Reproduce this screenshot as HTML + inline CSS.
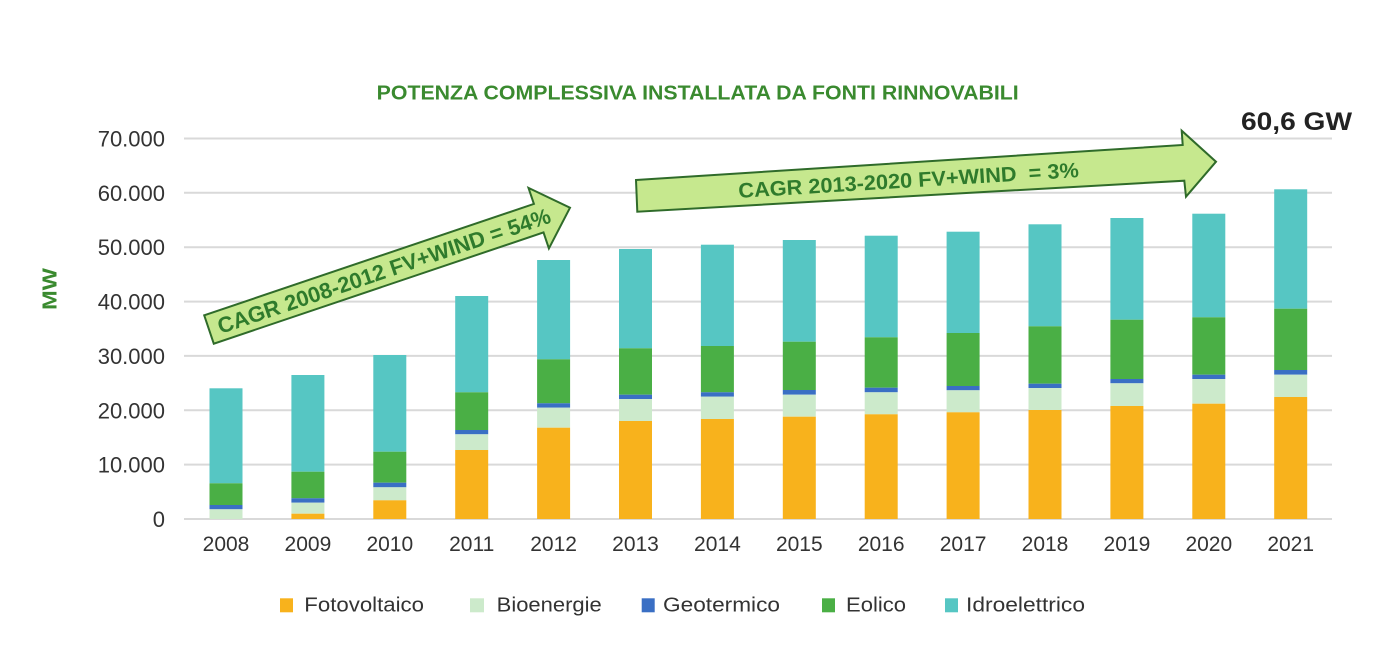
<!DOCTYPE html>
<html>
<head>
<meta charset="utf-8">
<style>
  html, body { margin:0; padding:0; background:#ffffff; }
  body { width:1400px; height:666px; overflow:hidden; }
  svg { display:block; }
  text { font-family: "Liberation Sans", "DejaVu Sans", sans-serif; }
</style>
</head>
<body>
<svg width="1400" height="666" viewBox="0 0 1400 666" xmlns="http://www.w3.org/2000/svg">
  <rect x="0" y="0" width="1400" height="666" fill="#ffffff"/>

  <!-- Title -->
  <text x="376.7" y="99.3" font-size="20" font-weight="bold" fill="#3A8A2F" textLength="642" lengthAdjust="spacingAndGlyphs">POTENZA COMPLESSIVA INSTALLATA DA FONTI RINNOVABILI</text>

  <!-- 60,6 GW -->
  <text x="1241" y="130" font-size="25" font-weight="bold" fill="#222222" textLength="111" lengthAdjust="spacingAndGlyphs">60,6 GW</text>

  <!-- Gridlines -->
  <g stroke="#D9D9D9" stroke-width="2">
    <line x1="184" y1="138.5" x2="1332" y2="138.5"/>
    <line x1="184" y1="192.8" x2="1332" y2="192.8"/>
    <line x1="184" y1="247.2" x2="1332" y2="247.2"/>
    <line x1="184" y1="301.6" x2="1332" y2="301.6"/>
    <line x1="184" y1="355.9" x2="1332" y2="355.9"/>
    <line x1="184" y1="410.3" x2="1332" y2="410.3"/>
    <line x1="184" y1="464.6" x2="1332" y2="464.6"/>
    <line x1="184" y1="519" x2="1332" y2="519"/>
  </g>

  <!-- Y labels -->
  <g font-size="22" fill="#333333" text-anchor="end">
    <text x="165" y="146.5">70.000</text>
    <text x="165" y="200.8">60.000</text>
    <text x="165" y="255.2">50.000</text>
    <text x="165" y="309.6">40.000</text>
    <text x="165" y="363.9">30.000</text>
    <text x="165" y="418.3">20.000</text>
    <text x="165" y="472.6">10.000</text>
    <text x="165" y="527">0</text>
  </g>

  <!-- MW -->
  <text transform="translate(56.5,289) rotate(-90)" x="0" y="0" font-size="20" font-weight="bold" fill="#3A8A2F" text-anchor="middle" textLength="42" lengthAdjust="spacingAndGlyphs">MW</text>

  <!-- Bars -->
  <g>
    <!-- 2008 -->
    <rect x="209.5" y="388.3" width="33" height="95" fill="#56C6C3"/>
    <rect x="209.5" y="483.3" width="33" height="21.7" fill="#4AAF45"/>
    <rect x="209.5" y="505" width="33" height="4.3" fill="#3A6FC4"/>
    <rect x="209.5" y="509.3" width="33" height="9.7" fill="#CCEACB"/>
    <!-- 2009 -->
    <rect x="291.4" y="375" width="33" height="96.7" fill="#56C6C3"/>
    <rect x="291.4" y="471.7" width="33" height="26.6" fill="#4AAF45"/>
    <rect x="291.4" y="498.3" width="33" height="4.4" fill="#3A6FC4"/>
    <rect x="291.4" y="502.7" width="33" height="11" fill="#CCEACB"/>
    <rect x="291.4" y="513.7" width="33" height="5.3" fill="#F8B21C"/>
    <!-- 2010 -->
    <rect x="373.3" y="355" width="33" height="96.7" fill="#56C6C3"/>
    <rect x="373.3" y="451.7" width="33" height="31" fill="#4AAF45"/>
    <rect x="373.3" y="482.7" width="33" height="4.6" fill="#3A6FC4"/>
    <rect x="373.3" y="487.3" width="33" height="13" fill="#CCEACB"/>
    <rect x="373.3" y="500.3" width="33" height="18.7" fill="#F8B21C"/>
    <!-- 2011 -->
    <rect x="455.2" y="296" width="33" height="96.3" fill="#56C6C3"/>
    <rect x="455.2" y="392.3" width="33" height="37.7" fill="#4AAF45"/>
    <rect x="455.2" y="430" width="33" height="4.3" fill="#3A6FC4"/>
    <rect x="455.2" y="434.3" width="33" height="15.7" fill="#CCEACB"/>
    <rect x="455.2" y="450" width="33" height="69" fill="#F8B21C"/>
    <!-- 2012 -->
    <rect x="537.1" y="260" width="33" height="99.3" fill="#56C6C3"/>
    <rect x="537.1" y="359.3" width="33" height="44" fill="#4AAF45"/>
    <rect x="537.1" y="403.3" width="33" height="4.4" fill="#3A6FC4"/>
    <rect x="537.1" y="407.7" width="33" height="20" fill="#CCEACB"/>
    <rect x="537.1" y="427.7" width="33" height="91.3" fill="#F8B21C"/>
    <!-- 2013 -->
    <rect x="619" y="249" width="33" height="99.3" fill="#56C6C3"/>
    <rect x="619" y="348.3" width="33" height="46.4" fill="#4AAF45"/>
    <rect x="619" y="394.7" width="33" height="4.3" fill="#3A6FC4"/>
    <rect x="619" y="399" width="33" height="22" fill="#CCEACB"/>
    <rect x="619" y="421" width="33" height="98" fill="#F8B21C"/>
    <!-- 2014 -->
    <rect x="700.9" y="244.7" width="33" height="101.3" fill="#56C6C3"/>
    <rect x="700.9" y="346" width="33" height="46.3" fill="#4AAF45"/>
    <rect x="700.9" y="392.3" width="33" height="4.4" fill="#3A6FC4"/>
    <rect x="700.9" y="396.7" width="33" height="22.3" fill="#CCEACB"/>
    <rect x="700.9" y="419" width="33" height="100" fill="#F8B21C"/>
    <!-- 2015 -->
    <rect x="782.8" y="240" width="33" height="101.7" fill="#56C6C3"/>
    <rect x="782.8" y="341.7" width="33" height="48.3" fill="#4AAF45"/>
    <rect x="782.8" y="390" width="33" height="4.7" fill="#3A6FC4"/>
    <rect x="782.8" y="394.7" width="33" height="22" fill="#CCEACB"/>
    <rect x="782.8" y="416.7" width="33" height="102.3" fill="#F8B21C"/>
    <!-- 2016 -->
    <rect x="864.7" y="235.7" width="33" height="101.6" fill="#56C6C3"/>
    <rect x="864.7" y="337.3" width="33" height="50.4" fill="#4AAF45"/>
    <rect x="864.7" y="387.7" width="33" height="4.6" fill="#3A6FC4"/>
    <rect x="864.7" y="392.3" width="33" height="22" fill="#CCEACB"/>
    <rect x="864.7" y="414.3" width="33" height="104.7" fill="#F8B21C"/>
    <!-- 2017 -->
    <rect x="946.6" y="231.7" width="33" height="101.3" fill="#56C6C3"/>
    <rect x="946.6" y="333" width="33" height="53" fill="#4AAF45"/>
    <rect x="946.6" y="386" width="33" height="4.3" fill="#3A6FC4"/>
    <rect x="946.6" y="390.3" width="33" height="22" fill="#CCEACB"/>
    <rect x="946.6" y="412.3" width="33" height="106.7" fill="#F8B21C"/>
    <!-- 2018 -->
    <rect x="1028.5" y="224.3" width="33" height="102" fill="#56C6C3"/>
    <rect x="1028.5" y="326.3" width="33" height="57.4" fill="#4AAF45"/>
    <rect x="1028.5" y="383.7" width="33" height="4.3" fill="#3A6FC4"/>
    <rect x="1028.5" y="388" width="33" height="22" fill="#CCEACB"/>
    <rect x="1028.5" y="410" width="33" height="109" fill="#F8B21C"/>
    <!-- 2019 -->
    <rect x="1110.4" y="218" width="33" height="101.7" fill="#56C6C3"/>
    <rect x="1110.4" y="319.7" width="33" height="59.3" fill="#4AAF45"/>
    <rect x="1110.4" y="379" width="33" height="4.3" fill="#3A6FC4"/>
    <rect x="1110.4" y="383.3" width="33" height="22.7" fill="#CCEACB"/>
    <rect x="1110.4" y="406" width="33" height="113" fill="#F8B21C"/>
    <!-- 2020 -->
    <rect x="1192.3" y="213.7" width="33" height="103.6" fill="#56C6C3"/>
    <rect x="1192.3" y="317.3" width="33" height="57.4" fill="#4AAF45"/>
    <rect x="1192.3" y="374.7" width="33" height="4.3" fill="#3A6FC4"/>
    <rect x="1192.3" y="379" width="33" height="24.7" fill="#CCEACB"/>
    <rect x="1192.3" y="403.7" width="33" height="115.3" fill="#F8B21C"/>
    <!-- 2021 -->
    <rect x="1274.2" y="189.3" width="33" height="119.4" fill="#56C6C3"/>
    <rect x="1274.2" y="308.7" width="33" height="61.3" fill="#4AAF45"/>
    <rect x="1274.2" y="370" width="33" height="4.7" fill="#3A6FC4"/>
    <rect x="1274.2" y="374.7" width="33" height="22.3" fill="#CCEACB"/>
    <rect x="1274.2" y="397" width="33" height="122" fill="#F8B21C"/>
  </g>

  <!-- X labels -->
  <g font-size="21" fill="#333333" text-anchor="middle">
    <text x="226" y="551">2008</text>
    <text x="307.9" y="551">2009</text>
    <text x="389.8" y="551">2010</text>
    <text x="471.7" y="551">2011</text>
    <text x="553.6" y="551">2012</text>
    <text x="635.5" y="551">2013</text>
    <text x="717.4" y="551">2014</text>
    <text x="799.3" y="551">2015</text>
    <text x="881.2" y="551">2016</text>
    <text x="963.1" y="551">2017</text>
    <text x="1045" y="551">2018</text>
    <text x="1126.9" y="551">2019</text>
    <text x="1208.8" y="551">2020</text>
    <text x="1290.7" y="551">2021</text>
  </g>

  <!-- Arrow 1 -->
  <polygon points="204.2,315.3 533.9,203.9 528.5,187.9 570,207.7 548.9,248.5 543.5,232.4 213.8,343.7" fill="#C6E88E" stroke="#2F6B2A" stroke-width="2" stroke-linejoin="miter"/>
  <text transform="translate(384,271) rotate(-18.64)" x="0" y="7.5" font-size="22" font-weight="bold" fill="#2F7B2C" text-anchor="middle" textLength="350" lengthAdjust="spacingAndGlyphs">CAGR 2008-2012 FV+WIND = 54%</text>

  <!-- Arrow 2 -->
  <polygon points="636,180 1182.7,145 1181.7,130.7 1216,161.7 1186,196.7 1184.3,180.7 637.3,211.7" fill="#C6E88E" stroke="#2F6B2A" stroke-width="2" stroke-linejoin="miter"/>
  <text transform="translate(908.5,180) rotate(-3.5)" x="0" y="7.5" font-size="21" font-weight="bold" fill="#2F7B2C" text-anchor="middle" textLength="341" lengthAdjust="spacingAndGlyphs" xml:space="preserve">CAGR 2013-2020 FV+WIND  = 3%</text>

  <!-- Legend -->
  <g font-size="20" fill="#333333">
    <rect x="280" y="598.3" width="13" height="14" fill="#F8B21C"/>
    <text x="304.3" y="611.5" textLength="119.7" lengthAdjust="spacingAndGlyphs">Fotovoltaico</text>
    <rect x="470" y="598.3" width="14" height="14" fill="#CCEACB"/>
    <text x="496.7" y="611.5" textLength="105" lengthAdjust="spacingAndGlyphs">Bioenergie</text>
    <rect x="641.7" y="598.3" width="13" height="14" fill="#3A6FC4"/>
    <text x="663" y="611.5" textLength="117" lengthAdjust="spacingAndGlyphs">Geotermico</text>
    <rect x="822" y="598.3" width="13" height="14" fill="#4AAF45"/>
    <text x="846" y="611.5" textLength="60" lengthAdjust="spacingAndGlyphs">Eolico</text>
    <rect x="945" y="598.3" width="13" height="14" fill="#56C6C3"/>
    <text x="966" y="611.5" textLength="119" lengthAdjust="spacingAndGlyphs">Idroelettrico</text>
  </g>
</svg>
</body>
</html>
